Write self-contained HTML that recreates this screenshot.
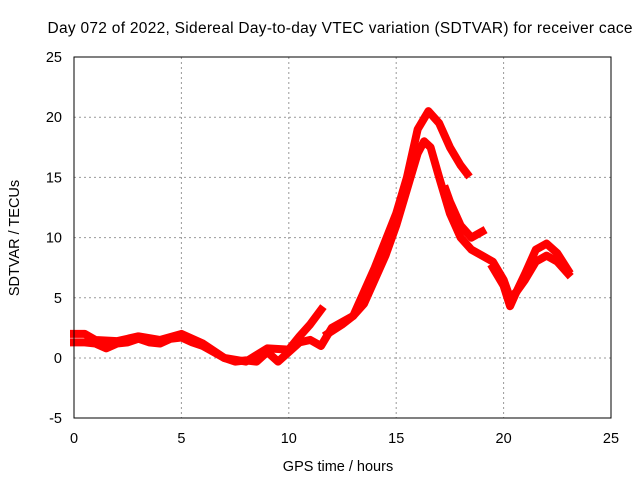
<!DOCTYPE html>
<html><head><meta charset="utf-8"><style>
body{margin:0;background:#fff;}
svg{display:block;font-family:"Liberation Sans",sans-serif;}
</style></head><body>
<svg id="c" width="640" height="480">
<text x="340" y="33" font-size="15.5" text-anchor="middle" textLength="585">Day 072 of 2022, Sidereal Day-to-day VTEC variation (SDTVAR) for receiver cace</text>
<text x="338" y="471" font-size="14.5" text-anchor="middle">GPS time / hours</text>
<text x="19" y="238" font-size="14.5" text-anchor="middle" transform="rotate(-90 19 238)">SDTVAR / TECUs</text>
<g id="grid"></g><g id="series"></g>
<rect x="74" y="57" width="537" height="361" fill="none" stroke="#000"/>
</svg>
<script>
const xTicks=[0,5,10,15,20,25];
const yTicks=[-5,0,5,10,15,20,25];
const trackAx=[0,0.5,1,1.5,2,2.5,3,3.5,4,4.5,5,5.5,6,6.5,7,7.5,8,8.5,9,9.5,10,10.5,11,11.5,12,12.5,13,13.5,14,14.5,15,15.5,16,16.3,16.6,17,17.5,18,18.5,19,19.5,20,20.3,20.6,21,21.5,22,22.5,23];
const trackAy=[1.3,1.3,1.2,0.8,1.2,1.3,1.6,1.3,1.2,1.6,1.7,1.3,1.0,0.5,0,-0.3,-0.2,-0.3,0.5,-0.3,0.5,1.3,1.5,1.0,2.5,3,3.5,4.5,6.5,8.5,11,14,17,18,17.5,15,12,10,9,8.5,8,6.5,5,5.5,6.5,8,8.5,8,7];
const trackBx=[0,0.5,1,2,3,4,5,6,7,8,9,10,10.5,11,11.5];
const trackBy=[2,2,1.5,1.4,1.8,1.5,2,1.2,0,-0.3,0.8,0.7,1.8,2.8,4];
const trackCx=[11.8,12.5,13,14,15,15.5,16,16.5,17,17.5,18,18.3];
const trackCy=[2,2.8,3.5,7.5,12,15,19,20.5,19.5,17.5,16,15.3];
const trackDx=[17.3,17.5,18,18.5,19];
const trackDy=[14,13,11,10,10.5];
const trackEx=[19.5,20,20.3,20.6,21,21.5,22,22.5,23];
const trackEy=[7.5,6,4.3,5.5,7,9,9.5,8.7,7.3];
const X=v=>74+(v/25)*537, Y=v=>358-(v/25)*301;
const NS="http://www.w3.org/2000/svg";
const g=document.getElementById('grid'), s=document.getElementById('series');
function mk(t,a,p){const e=document.createElementNS(NS,t);for(const k in a)e.setAttribute(k,a[k]);p.appendChild(e);return e;}
xTicks.forEach(v=>{
 if(v>0&&v<25){const l=mk('line',{x1:X(v),x2:X(v),y1:57,y2:418,stroke:'#999','stroke-dasharray':'2,3'},g);
 
 }
 const t=mk('text',{x:X(v),y:443,'font-size':14.5,'text-anchor':'middle'},g);t.textContent=v;
 
 
});
yTicks.forEach(v=>{
 if(v>-5&&v<25){const l=mk('line',{x1:74,x2:611,y1:Y(v),y2:Y(v),stroke:'#999','stroke-dasharray':'2,3'},g);
 
 }
 const t=mk('text',{x:62,y:Y(v)+5,'font-size':14.5,'text-anchor':'end'},g);t.textContent=v;
 
 
});
[[trackAx,trackAy],[trackBx,trackBy],[trackCx,trackCy],[trackDx,trackDy],[trackEx,trackEy]].forEach(([xs,ys])=>{
 const p=mk('polyline',{points:xs.map((x,i)=>X(x)+','+Y(ys[i])).join(' '),fill:'none',stroke:'#f00','stroke-width':8,'stroke-linejoin':'round','stroke-linecap':'square'},s);
 
 
});
</script>
</body></html>
